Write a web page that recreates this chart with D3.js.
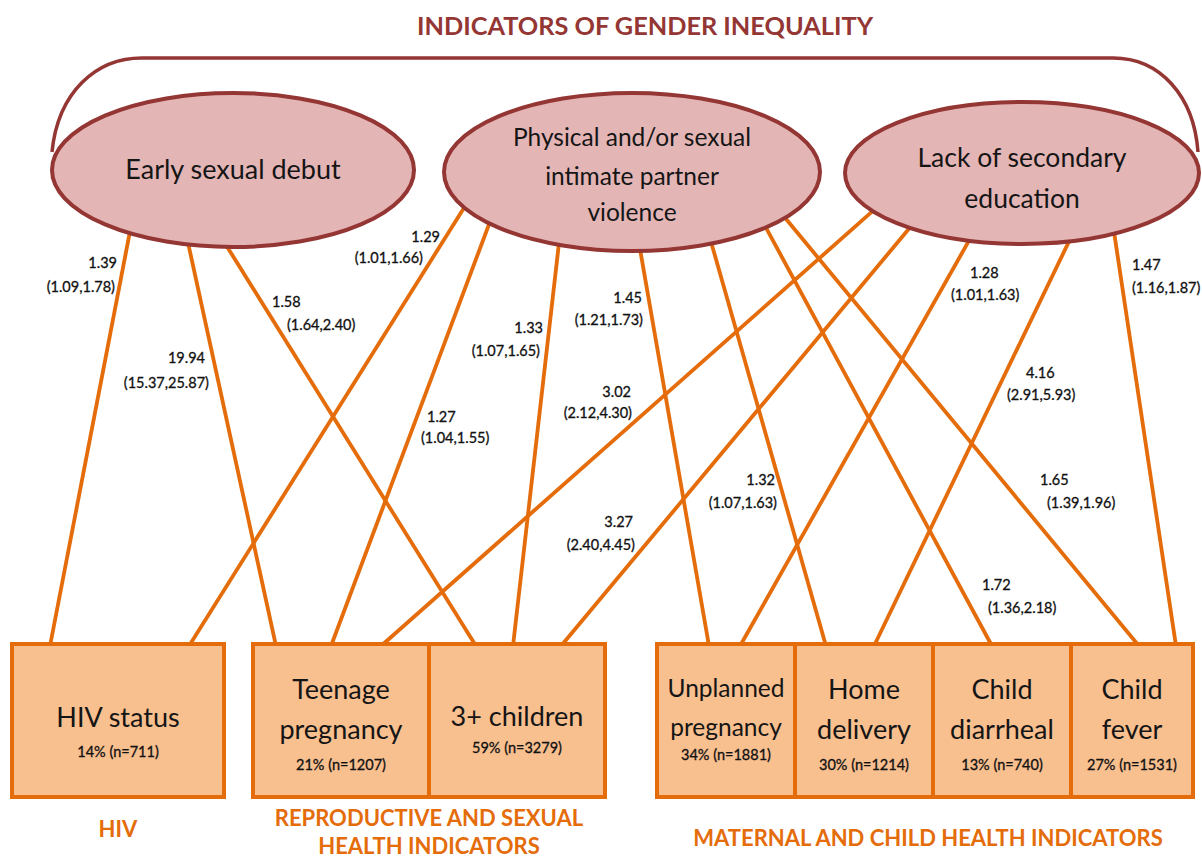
<!DOCTYPE html>
<html>
<head>
<meta charset="utf-8">
<script src="https://cdn.jsdelivr.net/npm/d3@7"></script>
<style>
body { margin: 0; background: #fff; }
text { font-family: Lato, "Open Sans", sans-serif; }
</style>
</head>
<body>
<script>
// exposures (gender inequality indicators) and outcomes
var exposureLines = [
  ["Early sexual debut"],
  ["Physical and/or sexual", "intimate partner", "violence"],
  ["Lack of secondary", "education"]
];
var outcomeLines = [
  ["HIV status"], ["Teenage", "pregnancy"], ["3+ children"],
  ["Unplanned", "pregnancy"], ["Home", "delivery"], ["Child", "diarrheal"], ["Child", "fever"]
];
var prevalence = [14, 21, 59, 34, 30, 13, 27];
var sampleN = [711, 1207, 3279, 1881, 1214, 740, 1531];

// associations: exposure index -> outcome index, odds ratio and 95% CI
var linkFrom = [0, 0, 0, 1, 1, 1, 1, 1, 1, 1, 2, 2, 2, 2, 2];
var linkTo   = [0, 1, 2, 0, 1, 2, 3, 4, 5, 6, 1, 2, 3, 4, 6];
var oddsRatio = [1.39, 19.94, 1.58, 1.29, 1.27, 1.33, 1.45, 1.32, 1.72, 1.65, 3.02, 3.27, 1.28, 4.16, 1.47];
var ciLow  = [1.09, 15.37, 1.64, 1.01, 1.04, 1.07, 1.21, 1.07, 1.36, 1.39, 2.12, 2.40, 1.01, 2.91, 1.16];
var ciHigh = [1.78, 25.87, 2.40, 1.66, 1.55, 1.65, 1.73, 1.63, 2.18, 1.96, 4.30, 4.45, 1.63, 5.93, 1.87];

var groupLabels = [["HIV"], ["REPRODUCTIVE AND SEXUAL", "HEALTH INDICATORS"], ["MATERNAL AND CHILD HEALTH INDICATORS"]];

// ---- layout (pixels) ----
var W = 1202, H = 859;
var dark = "#943634", pink = "#e4b5b5", orange = "#e46c0a", peach = "#f8bf8f";

var ellipses = [
  {cx: 233, cy: 170, rx: 181, ry: 77, ys: [170], size: 27},
  {cx: 632, cy: 172, rx: 188, ry: 79, ys: [137, 176, 212], size: 24.5},
  {cx: 1022, cy: 173, rx: 177, ry: 71, ys: [158, 199], size: 26.5}
];
var boxTop = 644, boxBottom = 797;
var boxEdges = [[12, 224], [253, 429], [429, 605], [657, 795], [795, 933], [933, 1071], [1071, 1193]];
var boxTextY = [[718], [690, 730], [717], [688, 727], [690, 730], [690, 730], [690, 730]];
var boxStatY = [752, 765, 748, 755, 765, 765, 765];
var boxTextSize = [27, 27, 27, 24.5, 27, 27, 27];

var startX = [130, 188, 226, 465, 490, 559, 640, 711, 765, 784, 874, 911, 970, 1070, 1114];
var endX   = [50, 276, 476, 189, 331, 513, 709, 826, 992, 1139, 381, 561, 740, 874, 1176];

// label anchor: [x, y(centre), anchor] for OR and for CI
var orPos = [[117,263,"end"],[205,358,"end"],[272,302,"start"],[440,237,"end"],[427,417,"start"],
  [543,328,"end"],[642,298,"end"],[775,480,"end"],[982,585,"start"],[1040,480,"start"],
  [631,392,"end"],[633,522,"end"],[970,273,"start"],[1026,373,"start"],[1132,265,"start"]];
var ciPos = [[115,287,"end"],[209,383,"end"],[287,325,"start"],[423,258,"end"],[421,438,"start"],
  [540,351,"end"],[643,320,"end"],[777,503,"end"],[988,608,"start"],[1047,503,"start"],
  [632,413,"end"],[635,545,"end"],[951,295,"start"],[1007,395,"start"],[1132,288,"start"]];

var groupPos = [{x: 118, ys: [829]}, {x: 429, ys: [818, 846]}, {x: 928, ys: [838]}];

var svg = d3.select("body").append("svg")
  .attr("width", W).attr("height", H);

svg.append("rect").attr("width", W).attr("height", H).attr("fill", "#fff");

// title
svg.append("text")
  .attr("x", 645).attr("y", 26).attr("dy", "0.35em")
  .attr("text-anchor", "middle")
  .attr("font-size", 25.3).attr("font-weight", "bold")
  .attr("fill", dark)
  .text("INDICATORS OF GENDER INEQUALITY");

// bracket linking the three indicators
svg.append("path")
  .attr("d", "M52,152 C58,92 96,58 142,58 L1113,58 C1160,58 1194,96 1198,152")
  .attr("fill", "none").attr("stroke", dark).attr("stroke-width", 3.5);

function ellipseY(e, x) {
  var t = (x - e.cx) / e.rx;
  return e.cy + e.ry * Math.sqrt(Math.max(0, 1 - t * t)) - 2;
}

// association lines
var links = linkFrom.map(function(f, i) {
  return {from: f, to: linkTo[i], or: oddsRatio[i], lo: ciLow[i], hi: ciHigh[i],
          x0: startX[i], x1: endX[i], orp: orPos[i], cip: ciPos[i]};
});

svg.append("g").selectAll("line").data(links).join("line")
  .attr("x1", function(d) { return d.x0; })
  .attr("y1", function(d) { return ellipseY(ellipses[d.from], d.x0); })
  .attr("x2", function(d) { return d.x1; })
  .attr("y2", boxTop + 2)
  .attr("stroke", orange).attr("stroke-width", 3.8);

// ellipses
var eg = svg.append("g").selectAll("g").data(ellipses).join("g");
eg.append("ellipse")
  .attr("cx", function(d) { return d.cx; }).attr("cy", function(d) { return d.cy; })
  .attr("rx", function(d) { return d.rx; }).attr("ry", function(d) { return d.ry; })
  .attr("fill", pink).attr("stroke", dark).attr("stroke-width", 4);
eg.each(function(d, i) {
  d3.select(this).selectAll("text").data(exposureLines[i]).join("text")
    .attr("x", d.cx).attr("y", function(t, j) { return d.ys[j]; })
    .attr("dy", "0.35em").attr("text-anchor", "middle")
    .attr("font-size", d.size).attr("fill", "#151515")
    .text(function(t) { return t; });
});

// outcome boxes
var bg = svg.append("g").selectAll("g").data(outcomeLines).join("g");
bg.append("rect")
  .attr("x", function(d, i) { return boxEdges[i][0]; })
  .attr("y", boxTop)
  .attr("width", function(d, i) { return boxEdges[i][1] - boxEdges[i][0]; })
  .attr("height", boxBottom - boxTop)
  .attr("fill", peach).attr("stroke", orange).attr("stroke-width", 4);
bg.each(function(lines, i) {
  var cx = (boxEdges[i][0] + boxEdges[i][1]) / 2;
  var g = d3.select(this);
  g.selectAll("text.name").data(lines).join("text").attr("class", "name")
    .attr("x", cx).attr("y", function(t, j) { return boxTextY[i][j]; })
    .attr("dy", "0.35em").attr("text-anchor", "middle")
    .attr("font-size", boxTextSize[i]).attr("fill", "#151515")
    .text(function(t) { return t; });
  g.append("text")
    .attr("x", cx).attr("y", boxStatY[i]).attr("dy", "0.35em")
    .attr("text-anchor", "middle").attr("font-size", 14.5).attr("fill", "#111")
    .attr("stroke", "#111").attr("stroke-width", 0.3)
    .text(prevalence[i] + "% (n=" + sampleN[i] + ")");
});

// odds ratio labels
var lg = svg.append("g").selectAll("g").data(links).join("g")
  .attr("font-size", 14.5).attr("fill", "#111")
  .attr("stroke", "#111").attr("stroke-width", 0.3);
lg.append("text")
  .attr("x", function(d) { return d.orp[0]; }).attr("y", function(d) { return d.orp[1]; })
  .attr("text-anchor", function(d) { return d.orp[2]; })
  .attr("dy", "0.35em")
  .text(function(d) { return d.or.toFixed(2); });
lg.append("text")
  .attr("x", function(d) { return d.cip[0]; }).attr("y", function(d) { return d.cip[1]; })
  .attr("text-anchor", function(d) { return d.cip[2]; })
  .attr("dy", "0.35em")
  .text(function(d) { return "(" + d.lo.toFixed(2) + "," + d.hi.toFixed(2) + ")"; });

// outcome group labels
groupLabels.forEach(function(lines, i) {
  svg.append("g").selectAll("text").data(lines).join("text")
    .attr("x", groupPos[i].x).attr("y", function(t, j) { return groupPos[i].ys[j]; })
    .attr("dy", "0.35em").attr("text-anchor", "middle")
    .attr("font-size", 22).attr("font-weight", "bold").attr("fill", orange)
    .text(function(t) { return t; });
});
</script>
</body>
</html>
